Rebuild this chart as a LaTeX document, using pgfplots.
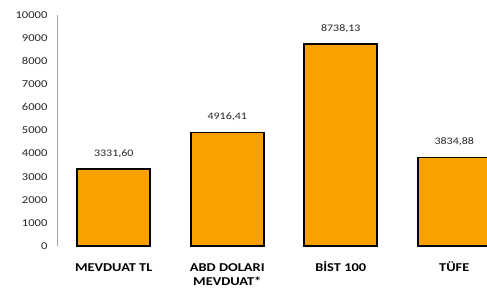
\documentclass[border=0pt]{standalone}
\usepackage{fontspec}
\setmainfont{Carlito}[FakeStretch=1.2]
\usepackage{pgfplots}
\pgfplotsset{compat=1.18}
\definecolor{barorange}{RGB}{250,160,0}
\definecolor{axgray}{RGB}{166,166,166}
\definecolor{txt}{RGB}{38,38,38}
\begin{document}
\begin{tikzpicture}
\path[use as bounding box] (-57pt,-46pt) rectangle (430pt,246pt);
\clip (-57pt,-46pt) rectangle (430pt,246pt);
\begin{axis}[
  at={(0pt,0pt)}, anchor=south west,
  scale only axis,
  width=454pt, height=231pt,
  xmin=-0.5, xmax=3.5,
  ymin=0, ymax=10000,
  axis x line=none,
  axis y line*=left,
  y axis line style={draw=axgray, line width=0.8pt, -},
  ytick={0,1000,...,10000},
  scaled y ticks=false,
  major tick length=0pt,
  yticklabel style={font=\fontsize{10.5}{12}\selectfont, text=txt, xshift=-6pt},
  /pgf/number format/assume math mode=true,
  /pgf/number format/1000 sep={},
  xtick={0,1,2,3},
  xticklabels={MEVDUAT TL, ABD DOLARI\\MEVDUAT*, BİST 100, TÜFE},
  clip=false,
  nodes near coords,
  point meta=explicit symbolic,
  every node near coord/.append style={font=\fontsize{10}{12}\selectfont, text=txt, anchor=base, yshift=13pt},
]
\addplot[ybar, bar width=73pt, fill=barorange, draw=black, line width=1.6pt]
  table[meta=lab] {
x y lab
0 3331.60 3331,60
1 4916.41 4916,41
2 8738.13 8738,13
3 3834.88 3834,88
};
\end{axis}
\begin{scope}[font=\bfseries\fontsize{12}{14}\selectfont, text=black]
\node[anchor=base, align=center] at (56.75pt,-25pt) {MEVDUAT TL};
\node[anchor=base, align=center] at (170.25pt,-25pt) {ABD DOLARI};
\node[anchor=base, align=center] at (170.25pt,-39pt) {MEVDUAT*};
\node[anchor=base, align=center] at (283.75pt,-25pt) {BİST 100};
\node[anchor=base, align=center] at (397.25pt,-25pt) {TÜFE};
\end{scope}
\end{tikzpicture}
\end{document}
